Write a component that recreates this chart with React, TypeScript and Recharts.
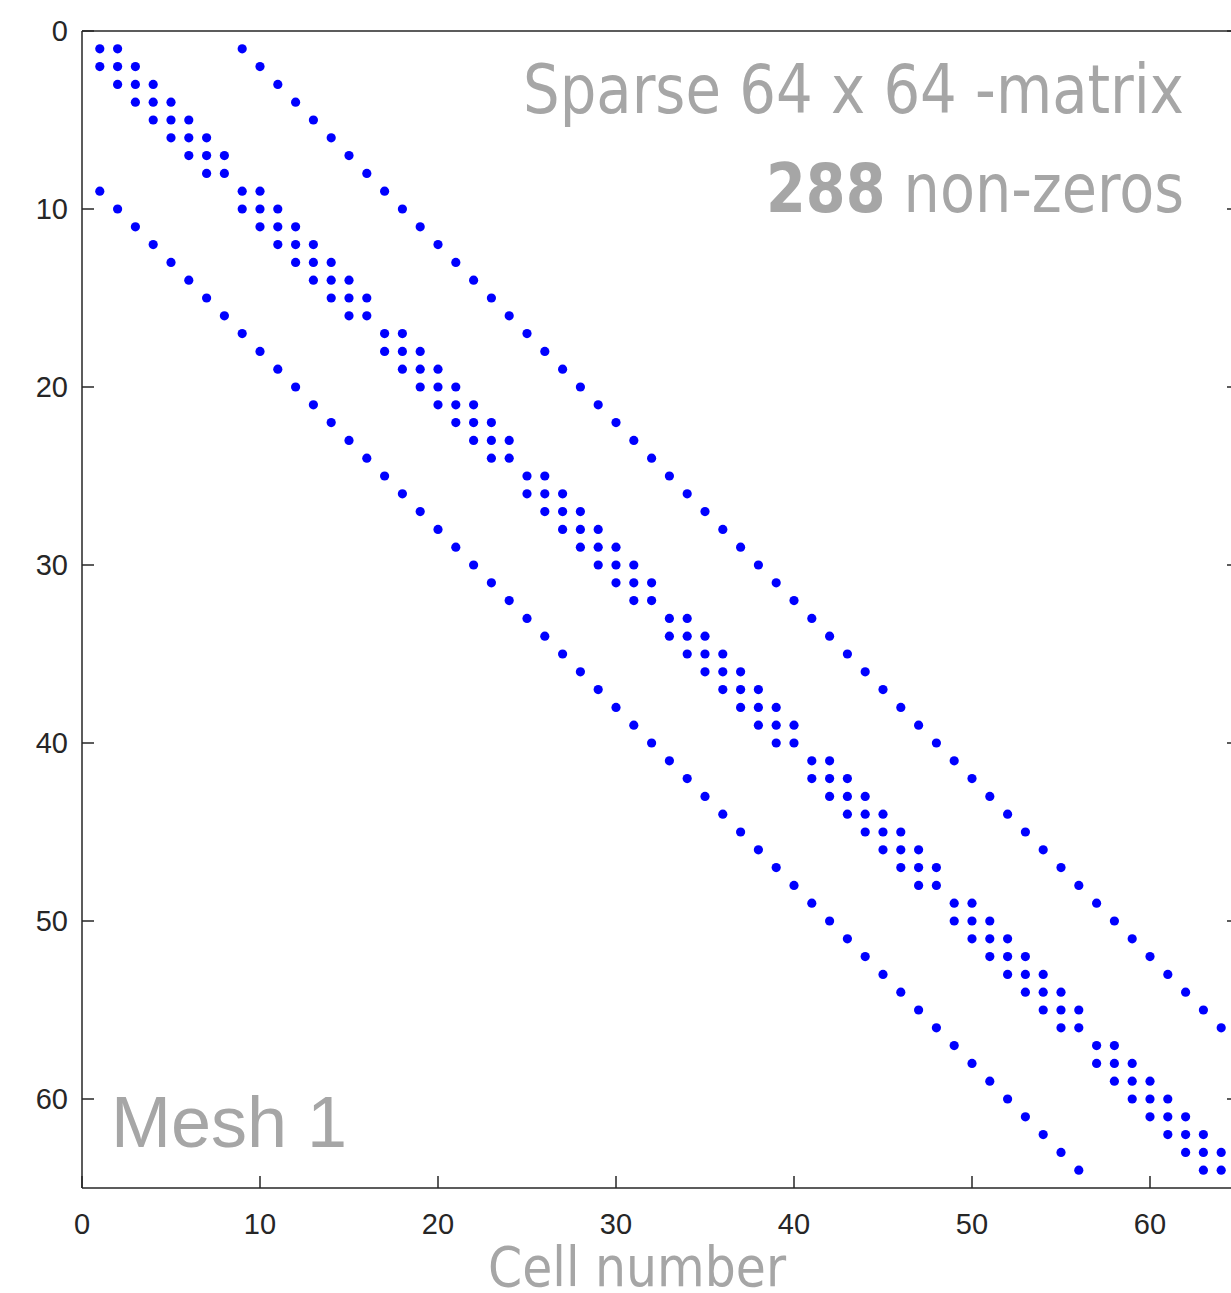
import { ScatterChart, Scatter, XAxis, YAxis, Customized } from "recharts";

// non-zero columns of each row (row 1..64) of the 64 x 64 sparse matrix
const rowCols: number[][] = [
  [1, 2, 9], [1, 2, 3, 10], [2, 3, 4, 11], [3, 4, 5, 12],
  [4, 5, 6, 13], [5, 6, 7, 14], [6, 7, 8, 15], [7, 8, 16],
  [1, 9, 10, 17], [2, 9, 10, 11, 18], [3, 10, 11, 12, 19], [4, 11, 12, 13, 20],
  [5, 12, 13, 14, 21], [6, 13, 14, 15, 22], [7, 14, 15, 16, 23], [8, 15, 16, 24],
  [9, 17, 18, 25], [10, 17, 18, 19, 26], [11, 18, 19, 20, 27], [12, 19, 20, 21, 28],
  [13, 20, 21, 22, 29], [14, 21, 22, 23, 30], [15, 22, 23, 24, 31], [16, 23, 24, 32],
  [17, 25, 26, 33], [18, 25, 26, 27, 34], [19, 26, 27, 28, 35], [20, 27, 28, 29, 36],
  [21, 28, 29, 30, 37], [22, 29, 30, 31, 38], [23, 30, 31, 32, 39], [24, 31, 32, 40],
  [25, 33, 34, 41], [26, 33, 34, 35, 42], [27, 34, 35, 36, 43], [28, 35, 36, 37, 44],
  [29, 36, 37, 38, 45], [30, 37, 38, 39, 46], [31, 38, 39, 40, 47], [32, 39, 40, 48],
  [33, 41, 42, 49], [34, 41, 42, 43, 50], [35, 42, 43, 44, 51], [36, 43, 44, 45, 52],
  [37, 44, 45, 46, 53], [38, 45, 46, 47, 54], [39, 46, 47, 48, 55], [40, 47, 48, 56],
  [41, 49, 50, 57], [42, 49, 50, 51, 58], [43, 50, 51, 52, 59], [44, 51, 52, 53, 60],
  [45, 52, 53, 54, 61], [46, 53, 54, 55, 62], [47, 54, 55, 56, 63], [48, 55, 56, 64],
  [49, 57, 58], [50, 57, 58, 59], [51, 58, 59, 60], [52, 59, 60, 61],
  [53, 60, 61, 62], [54, 61, 62, 63], [55, 62, 63, 64], [56, 63, 64],
];

const xTicks = [0, 10, 20, 30, 40, 50, 60];
const yTicks = [0, 10, 20, 30, 40, 50, 60];
const axisMax = 65;

const matrixTitle = "Sparse 64 x 64 -matrix";
const nnzCount = "288";
const nnzLabel = " non-zeros";
const meshName = "Mesh 1";
const xLabel = "Cell number";

const points = rowCols.flatMap((cols, i) => cols.map((c) => ({ col: c, row: i + 1 })));

const axisColor = "#262626";
const grey = "#a6a6a6";
const tickFont = "'Liberation Sans', Arial, sans-serif";
const narrowFont = "'Liberation Sans Narrow', 'DejaVu Sans Condensed', sans-serif";

const BottomTick = (props: any) => {
  const { x, y, payload } = props;
  return (
    <g>
      <line x1={x} x2={x} y1={y} y2={y - 12} stroke={axisColor} strokeWidth={1.5} />
      <text x={x} y={y + 46} textAnchor="middle" fontSize={29} fontFamily={tickFont} fill={axisColor}>
        {payload.value}
      </text>
    </g>
  );
};

const LeftTick = (props: any) => {
  const { x, y, payload } = props;
  return (
    <g>
      <line x1={x} x2={x + 12} y1={y} y2={y} stroke={axisColor} strokeWidth={1.5} />
      <text x={x - 14} y={y + 10} textAnchor="end" fontSize={29} fontFamily={tickFont} fill={axisColor}>
        {payload.value}
      </text>
    </g>
  );
};

const TopTick = (props: any) => {
  const { x, y } = props;
  return <line x1={x} x2={x} y1={y} y2={y + 12} stroke={axisColor} strokeWidth={1.5} />;
};

const RightTick = (props: any) => {
  const { x, y } = props;
  return <line x1={x} x2={x - 12} y1={y} y2={y} stroke={axisColor} strokeWidth={1.5} />;
};

const Dot = (props: any) => <circle cx={props.cx} cy={props.cy} r={4.6} fill="#0000ff" />;

const Annotations = () => (
  <g>
    <text
      x={523}
      y={113}
      textLength={661}
      lengthAdjust="spacingAndGlyphs"
      fontSize={68}
      fontFamily={narrowFont}
      fill={grey}
    >
      {matrixTitle}
    </text>
    <text
      x={766}
      y={212}
      textLength={418}
      lengthAdjust="spacingAndGlyphs"
      fontSize={68}
      fontFamily={narrowFont}
      fill={grey}
    >
      <tspan fontWeight="bold">{nnzCount}</tspan>
      {nnzLabel}
    </text>
    <text x={111} y={1147} fontSize={72} fontFamily={tickFont} fill={grey}>
      {meshName}
    </text>
    <text
      x={488}
      y={1286}
      textLength={298}
      lengthAdjust="spacingAndGlyphs"
      fontSize={56}
      fontFamily={narrowFont}
      fill={grey}
    >
      {xLabel}
    </text>
  </g>
);

export default function App() {
  return (
    <div
      style={{
        position: "fixed",
        left: 0,
        top: 0,
        width: 1231,
        height: 1293,
        overflow: "hidden",
        background: "#fff",
      }}
    >
      <ScatterChart width={1250} height={1293} margin={{ top: 0, right: 0, left: 0, bottom: 0 }}>
        <XAxis
          type="number"
          dataKey="col"
          domain={[0, axisMax]}
          ticks={xTicks}
          height={105}
          tickSize={0}
          tickMargin={0}
          tick={BottomTick}
          axisLine={{ stroke: axisColor, strokeWidth: 1.5 }}
          allowDataOverflow
        />
        <XAxis
          xAxisId="top"
          orientation="top"
          type="number"
          domain={[0, axisMax]}
          ticks={xTicks}
          height={31}
          tickSize={0}
          tickMargin={0}
          tick={TopTick}
          axisLine={{ stroke: axisColor, strokeWidth: 1.5 }}
          allowDataOverflow
        />
        <YAxis
          type="number"
          dataKey="row"
          domain={[0, axisMax]}
          ticks={yTicks}
          reversed
          width={82}
          tickSize={0}
          tickMargin={0}
          tick={LeftTick}
          axisLine={{ stroke: axisColor, strokeWidth: 1.5 }}
          allowDataOverflow
        />
        <YAxis
          yAxisId="right"
          orientation="right"
          type="number"
          domain={[0, axisMax]}
          ticks={yTicks}
          reversed
          width={11}
          tickSize={0}
          tickMargin={0}
          tick={RightTick}
          axisLine={{ stroke: axisColor, strokeWidth: 1.5 }}
          allowDataOverflow
        />
        <Scatter data={points} shape={Dot} isAnimationActive={false} />
        <Customized component={Annotations} />
      </ScatterChart>
    </div>
  );
}
